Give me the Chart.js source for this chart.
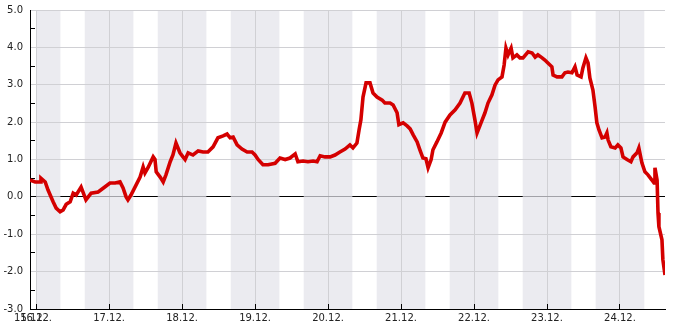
<!DOCTYPE html>
<html>
<head>
<meta charset="utf-8">
<script src="https://cdn.jsdelivr.net/npm/chart.js@4/dist/chart.umd.min.js"></script>
<style>
  html, body { margin: 0; padding: 0; background: #ffffff; }
  #wrap { width: 685px; height: 330px; position: relative; }
</style>
</head>
<body>
<div id="wrap"><canvas id="c"></canvas></div>
<script>
// Hours since 16.12. 00:00
const hours = [
  -2, -0.3, 1.3, 1.6, 3.0, 3.9, 5.6, 6.6, 7.9, 8.9, 9.9, 11.2, 12.2, 13.2, 14.8, 16.4, 18.1, 20.4, 22.7,
  24.3, 26.0, 27.6, 28.6, 29.6, 30.2, 31.2, 32.9, 34.2, 35.2, 35.8, 36.8, 38.5, 39.1, 39.5, 40.8, 41.8,
  42.7, 44.1, 45.0, 46.0, 47.3, 48.3, 49.0, 50.0, 51.6, 53.3, 54.9, 56.5, 58.2, 59.8, 61.5, 62.8, 63.8,
  64.8, 66.1, 67.7, 69.4, 71.0, 72.0, 73.0, 74.6, 76.3, 78.6, 80.2, 81.9, 83.5, 85.2, 86.1, 87.8, 89.4,
  91.1, 92.4, 93.4, 95.0, 96.7, 98.3, 99.9, 101.6, 103.2, 104.2, 105.5, 106.2, 106.8, 107.5, 108.5,
  109.8, 110.8, 112.1, 113.8, 114.7, 116.4, 117.4, 118.7, 119.3, 120.7, 122.0, 123.0, 124.0, 125.3,
  126.2, 127.2, 128.2, 128.9, 129.9, 130.5, 131.8, 133.2, 134.5, 136.1, 137.8, 139.4, 141.0, 142.4,
  143.3, 144.3, 145.0, 146.3, 147.6, 148.6, 149.9, 150.9, 151.9, 153.2, 153.9, 154.5, 155.2, 156.2,
  156.8, 158.1, 159.1, 160.1, 161.8, 163.1, 164.1, 165.0, 166.4, 167.3, 168.3, 169.6, 170.0, 171.3,
  172.9, 173.9, 174.9, 176.2, 177.2, 177.9, 179.2, 179.8, 180.8, 181.5, 182.1, 183.1, 183.8, 184.4,
  185.1, 186.1, 187.1, 187.7, 188.1, 189.0, 190.4, 191.3, 192.3, 193.0, 194.3, 195.6, 196.3, 197.6,
  198.2, 199.2, 200.2, 201.2, 202.5, 203.2, 203.5, 204.2, 204.5, 204.8, 205.8, 206.1, 206.8
];
const values = [
  0.45, 0.40, 0.40, 0.50, 0.40, 0.19, -0.13, -0.30, -0.40, -0.35, -0.20, -0.13, 0.10, 0.05, 0.26, -0.08, 0.10, 0.13, 0.27,
  0.37, 0.37, 0.40, 0.24, 0.00, -0.08, 0.05, 0.32, 0.53, 0.80, 0.64, 0.78, 1.07, 1.00, 0.67, 0.53, 0.40,
  0.59, 0.94, 1.12, 1.44, 1.18, 1.07, 1.00, 1.18, 1.12, 1.23, 1.20, 1.20, 1.34, 1.58, 1.63, 1.68, 1.58,
  1.60, 1.39, 1.28, 1.20, 1.20, 1.12, 1.00, 0.86, 0.86, 0.90, 1.04, 1.00, 1.04, 1.15, 0.94, 0.96, 0.94,
  0.96, 0.94, 1.10, 1.07, 1.07, 1.12, 1.20, 1.28, 1.39, 1.31, 1.44, 1.79, 2.06, 2.67, 3.05,
  3.05, 2.78, 2.67, 2.59, 2.51, 2.51, 2.46, 2.25, 1.93, 1.98, 1.90, 1.82, 1.66, 1.47,
  1.26, 1.04, 1.02, 0.78, 1.00, 1.26, 1.47, 1.71, 2.00, 2.19, 2.33, 2.51, 2.78, 2.78,
  2.51, 2.06, 1.71, 1.98, 2.25, 2.51, 2.73, 2.99, 3.13, 3.21, 3.53, 3.98, 3.80, 3.98,
  3.72, 3.80, 3.72, 3.72, 3.88, 3.85, 3.74, 3.80, 3.72, 3.66, 3.58, 3.48, 3.26, 3.21,
  3.21, 3.32, 3.34, 3.32, 3.48, 3.26, 3.21, 3.45, 3.72, 3.58, 3.18, 2.86, 2.41, 1.98,
  1.79, 1.58, 1.60, 1.71, 1.52, 1.34, 1.31, 1.39, 1.31, 1.07, 1.00, 0.94, 1.07, 1.18,
  1.31, 0.91, 0.67, 0.59, 0.45, 0.37, 0.78, 0.45, -0.43, -0.80, -1.15, -1.68, -2.09
];
const startLabel = "15.12.";
const dayLabels = ["16.12.", "17.12.", "18.12.", "19.12.", "20.12.", "21.12.", "22.12.", "23.12.", "24.12."];
// Shaded night periods [from, to] in hours since 16.12. 00:00
const nightStarts = [-16, 16, 40, 64, 88, 112, 136, 160, 184];
const nightEnds   = [8, 32, 56, 80, 104, 128, 152, 176, 200];

const X_MIN = -2, X_MAX = 206.8;
const BAND = '#ebebf0';

const points = hours.map((h, i) => ({ x: h, y: values[i] }));
const align = p => Math.round(p - 0.5) + 0.5;

const decorPlugin = {
  id: 'decor',
  beforeDraw(chart) {
    const { ctx, chartArea: a, scales: { x } } = chart;
    ctx.save();
    ctx.fillStyle = BAND;
    for (let i = 0; i < nightStarts.length; i++) {
      const s = Math.max(nightStarts[i], 0, X_MIN);
      const e = Math.min(nightEnds[i], X_MAX);
      if (e <= s) continue;
      const x0 = x.getPixelForValue(s), x1 = x.getPixelForValue(e);
      ctx.fillRect(x0, a.top, x1 - x0, a.bottom - a.top);
    }
    ctx.restore();
  },
  beforeDatasetsDraw(chart) {
    const { ctx, chartArea: a, scales: { x, y } } = chart;
    ctx.save();
    const yz = align(y.getPixelForValue(0));
    ctx.strokeStyle = '#a2a2a8';
    ctx.lineWidth = 1;
    for (let i = 0; i < nightStarts.length; i++) {
      const s = Math.max(nightStarts[i], 0, X_MIN);
      const e = Math.min(nightEnds[i], X_MAX);
      if (e <= s) continue;
      ctx.beginPath();
      ctx.moveTo(x.getPixelForValue(s), yz);
      ctx.lineTo(x.getPixelForValue(e), yz);
      ctx.stroke();
    }
    ctx.strokeStyle = '#000';
    for (let v = -2.5; v < 5; v += 1) {
      const py = align(y.getPixelForValue(v));
      ctx.beginPath();
      ctx.moveTo(a.left, py);
      ctx.lineTo(a.left + 5, py);
      ctx.stroke();
    }
    for (let d = 0; d < dayLabels.length; d++) {
      const px = align(x.getPixelForValue(d * 24));
      ctx.beginPath();
      ctx.moveTo(px, a.bottom);
      ctx.lineTo(px, a.bottom - 5);
      ctx.stroke();
    }
    ctx.restore();
  }
};

Chart.defaults.font.family = 'DejaVu Sans';
Chart.defaults.font.size = 10;
Chart.defaults.color = '#222';

new Chart(document.getElementById('c'), {
  type: 'line',
  data: {
    datasets: [{
      data: points,
      borderColor: '#d40000',
      borderWidth: 3.6,
      pointRadius: 0,
      tension: 0,
      fill: false
    }]
  },
  options: {
    responsive: true,
    maintainAspectRatio: false,
    animation: false,
    events: [],
    layout: { padding: { top: 10, right: 20, left: 0, bottom: 0 } },
    plugins: { legend: { display: false }, tooltip: { enabled: false } },
    scales: {
      x: {
        type: 'linear',
        min: X_MIN,
        max: X_MAX,
        afterBuildTicks(scale) {
          scale.ticks = [{ value: X_MIN }].concat(dayLabels.map((_, i) => ({ value: i * 24 })));
        },
        afterFit(scale) {
          scale.height = 21;
          scale.paddingLeft = 0; scale.paddingRight = 0;
        },
        ticks: {
          autoSkip: false,
          maxRotation: 0,
          minRotation: 0,
          padding: 3,
          color: '#222',
          callback(v) {
            if (v === X_MIN) return startLabel;
            return dayLabels[Math.round(v / 24)];
          }
        },
        grid: {
          drawTicks: false,
          color: ctx => (ctx.tick && ctx.tick.value === X_MIN) ? 'rgba(0,0,0,0)' : '#d0d0d4',
          lineWidth: 1
        },
        border: { display: true, color: '#000', width: 1 }
      },
      y: {
        min: -3,
        max: 5,
        afterFit(scale) {
          scale.width = 30;
          scale.paddingTop = 0; scale.paddingBottom = 0;
        },
        ticks: {
          stepSize: 1,
          padding: 7,
          color: '#222',
          callback: v => v.toFixed(1)
        },
        grid: {
          drawTicks: false,
          color: ctx => (ctx.tick && ctx.tick.value === 0) ? '#000' : '#d0d0d4',
          lineWidth: 1
        },
        border: { display: true, color: '#000', width: 1 }
      }
    }
  },
  plugins: [decorPlugin]
});
</script>
</body>
</html>
